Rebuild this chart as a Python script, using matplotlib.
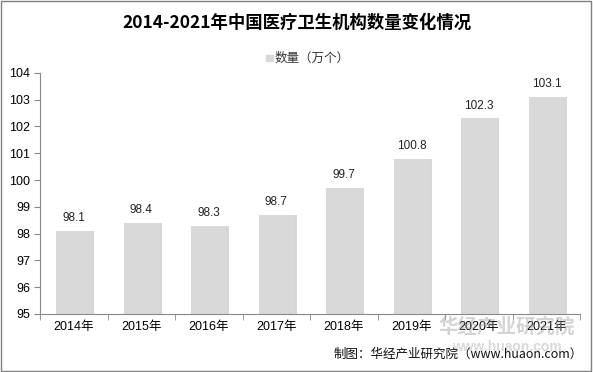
import numpy as np
import matplotlib.pyplot as plt
from matplotlib.patches import Rectangle

plt.rcParams['font.family'] = ['Liberation Sans', 'Noto Sans CJK SC', 'DejaVu Sans']

years = ['2014年', '2015年', '2016年', '2017年', '2018年', '2019年', '2020年', '2021年']
counts = [98.1, 98.4, 98.3, 98.7, 99.7, 100.8, 102.3, 103.1]
yticks = [95, 96, 97, 98, 99, 100, 101, 102, 103, 104]

fig = plt.figure(figsize=(5.93, 3.72), dpi=100)
ax = fig.add_axes([0.0675, 0.156, 0.911, 0.648])

x = np.arange(len(years))
# soft shadow on the right of each bar
ax.bar(x + 0.04, np.array(counts) - 95, bottom=95, width=0.52, color='#bdbdbd', alpha=0.6, zorder=1)
ax.bar(x, np.array(counts) - 95, bottom=95, width=0.52, color='#d9d9d9', zorder=2)
for xi, v in zip(x, counts):
    ax.text(xi, v + 0.25, f'{v:.1f}', ha='center', va='bottom', fontsize=8.5, color='#222222')

ax.set_xlim(-0.5, len(years) - 0.5)
ax.set_ylim(95, 104)
ax.set_yticks(yticks)
ax.set_yticklabels([str(t) for t in yticks], fontsize=9)
ax.set_xticks(x)
ax.set_xticklabels(years, fontsize=9)
ax.set_xticks(np.arange(-0.5, len(years)), minor=True)
ax.tick_params(axis='x', which='major', length=0, pad=5)
ax.tick_params(axis='x', which='minor', length=4, color='#888888')
ax.tick_params(axis='y', length=4, color='#888888', pad=3)
for s in ['top', 'right']:
    ax.spines[s].set_visible(False)
for s in ['left', 'bottom']:
    ax.spines[s].set_color('#888888')
    ax.spines[s].set_linewidth(0.8)

fig.text(0.5, 0.94, '2014-2021年中国医疗卫生机构数量变化情况', ha='center', va='center',
         fontsize=12.5, fontweight='bold', family=['Noto Sans CJK SC', 'DejaVu Sans'])
fig.patches.append(Rectangle((0.449, 0.835), 0.011, 0.018, transform=fig.transFigure,
                             color='#d9d9d9'))
fig.text(0.463, 0.844, '数量（万个）', ha='left', va='center', fontsize=9,
         family=['Noto Sans CJK SC', 'DejaVu Sans'], color='#333333')

# watermark
fig.text(0.855, 0.122, '华经产业研究院', ha='center', va='center', fontsize=14, fontweight='bold',
         color='#a0a0a0', alpha=0.45, family=['Noto Sans CJK SC', 'DejaVu Sans'])
fig.text(0.855, 0.066, 'www.huaon.com', ha='center', va='center', fontsize=10, fontweight='bold',
         color='#a0a0a0', alpha=0.4)

fig.text(0.983, 0.048, '制图：华经产业研究院（www.huaon.com）', ha='right', va='center', fontsize=9,
         family=['Noto Sans CJK SC', 'DejaVu Sans'], color='#111111')

fig.patches.append(Rectangle((0.002, 0.003), 0.995, 0.994, transform=fig.transFigure,
                             fill=False, edgecolor='#808080', linewidth=1))

fig.savefig('out.png', dpi=100)
